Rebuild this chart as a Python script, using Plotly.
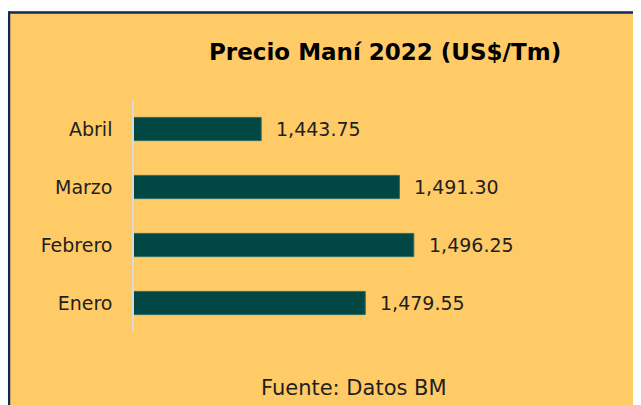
import plotly.graph_objects as go

months = ["Enero", "Febrero", "Marzo", "Abril"]
prices = [1479.55, 1496.25, 1491.30, 1443.75]
price_labels = ["1,479.55", "1,496.25", "1,491.30", "1,443.75"]

# page body has an 8px margin; figure sized to fit the 641x405 window
OFF = 8
W, H = 641 - OFF, 405 - OFF
L, T = 134 - OFF, 100 - OFF
B = H - (332 - OFF)
pw = 450
R = W - L - pw
ph = H - T - B

def px(x):  # screen pixel -> paper
    return (x - OFF - L) / pw

def py(y):
    return (H - B - (y - OFF)) / ph

ORANGE = "#FFCB66"
NAVY = "#14285A"
BAR = "#014845"
FONT = "DejaVu Sans"

fig = go.Figure()
fig.add_trace(go.Bar(
    y=months, x=prices, orientation="h",
    marker=dict(color=BAR, line=dict(color="#2f6d66", width=1)),
    width=0.4, hoverinfo="skip",
))

annotations = []
for m, v, t in zip(months, prices, price_labels):
    annotations.append(dict(x=v, y=m, xref="x", yref="y", text=t, showarrow=False,
                            xanchor="left", xshift=13, font=dict(family=FONT, size=19, color="#1f1f1f")))
annotations.append(dict(x=px(354), y=py(388), xref="paper", yref="paper", text="Fuente: Datos BM",
                        showarrow=False, xanchor="center", yanchor="middle",
                        font=dict(family=FONT, size=21, color="#1f1f1f")))
annotations.append(dict(x=px(385), y=py(52), xref="paper", yref="paper",
                        text="<b>Precio Maní 2022 (US$/Tm)</b>",
                        showarrow=False, xanchor="center", yanchor="middle",
                        font=dict(family=FONT, size=23, color="#000000")))

shapes = [
    dict(type="rect", xref="paper", yref="paper", x0=px(-5), x1=px(650), y0=py(11.5), y1=py(-5),
         fillcolor="white", line=dict(width=0), layer="below"),
    dict(type="line", xref="paper", yref="paper", x0=px(7), x1=px(650), y0=py(12.5), y1=py(12.5),
         line=dict(color=NAVY, width=2.5)),
    dict(type="line", xref="paper", yref="paper", x0=px(9), x1=px(9), y0=py(11.5), y1=py(410),
         line=dict(color=NAVY, width=2.5)),
]

fig.update_layout(
    width=W, height=H,
    margin=dict(l=L, r=R, t=T, b=B),
    paper_bgcolor=ORANGE, plot_bgcolor=ORANGE,
    showlegend=False,
    annotations=annotations, shapes=shapes,
    xaxis=dict(range=[1400, 1400 + pw * 0.344], showgrid=False, showticklabels=False,
               zeroline=False, showline=False, ticks=""),
    yaxis=dict(categoryorder="array", categoryarray=months, showgrid=False, zeroline=False,
               showline=True, linecolor="#D9D9D9", linewidth=1.5, ticks="",
               ticklabelstandoff=16,
               tickfont=dict(family=FONT, size=19, color="#1f1f1f")),
)

fig.write_html("out.html")
